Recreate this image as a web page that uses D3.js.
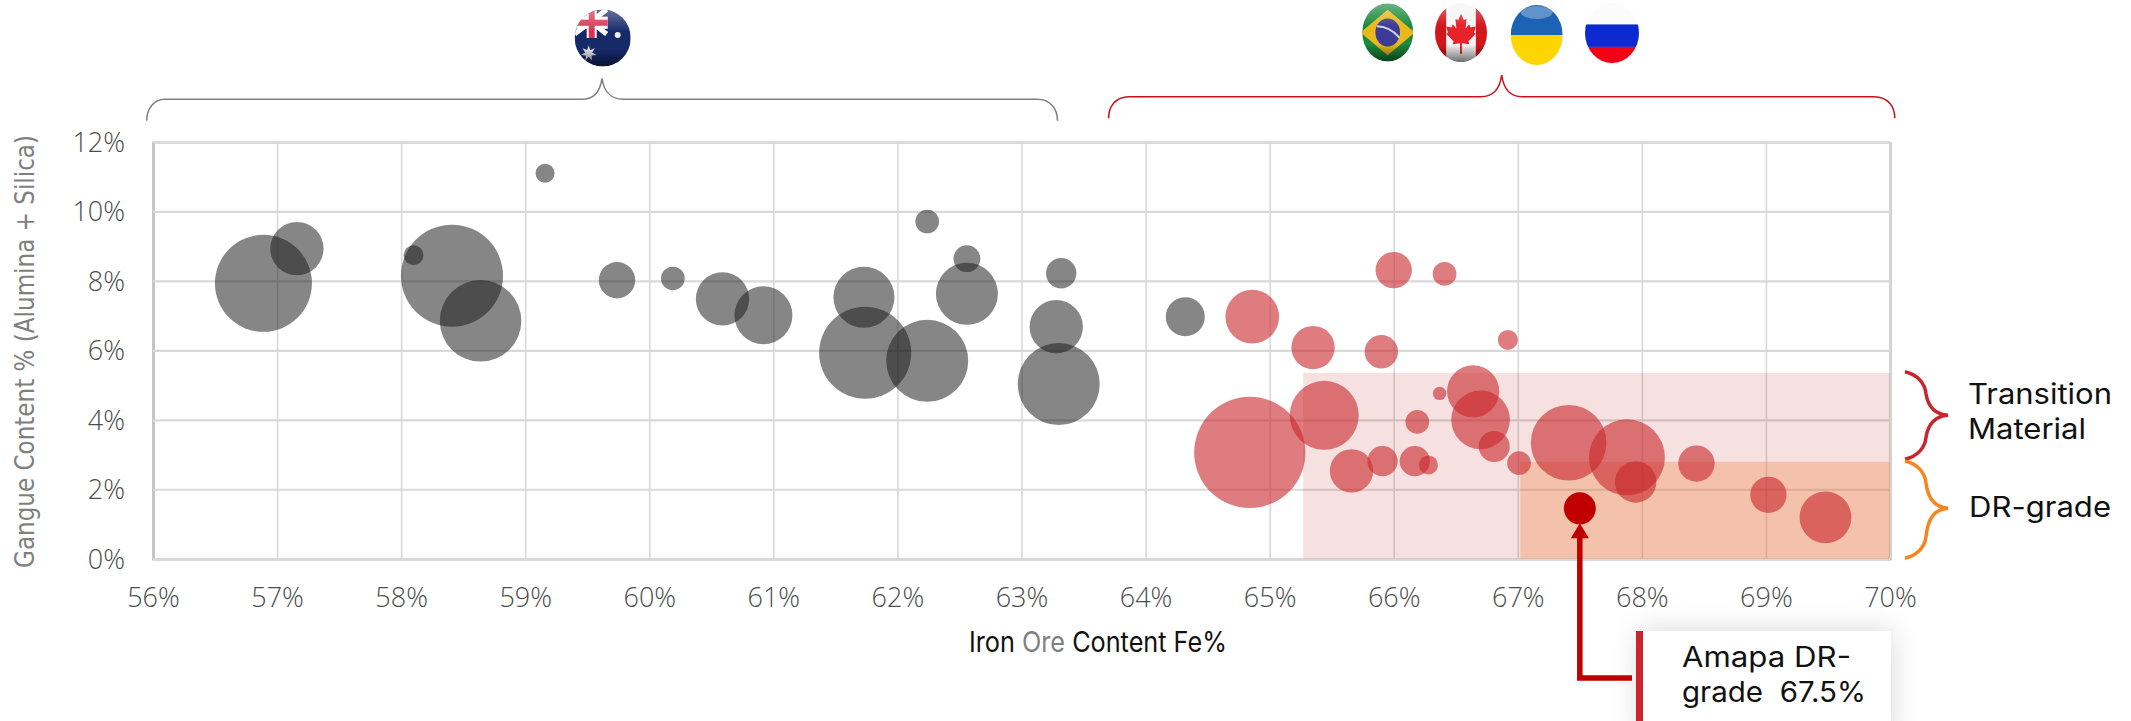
<!DOCTYPE html>
<html>
<head>
<meta charset="utf-8">
<script src="https://cdn.jsdelivr.net/npm/d3@7"></script>
<style>
  html, body { margin: 0; padding: 0; background: #fff; }
  svg { display: block; }
  text { font-family: "Open Sans", sans-serif; }
  .tick text { font-size: 27px; font-weight: 300; fill: #4d4d4d; }
  .label { font-family: "Inter", sans-serif; fill: #111; }
</style>
</head>
<body>
<div id="chart"></div>
<script>
var xTicks = [56, 57, 58, 59, 60, 61, 62, 63, 64, 65, 66, 67, 68, 69, 70];
var yTicks = [0, 2, 4, 6, 8, 10, 12];

// australian producers
var grayFe = [56.89, 57.16, 59.16, 58.10, 58.41, 58.64, 59.74, 60.19, 60.59, 60.92, 61.73, 61.74, 62.24, 62.24, 62.56, 62.56, 63.32, 63.28, 63.30, 64.32];
var grayGangue = [7.93, 8.93, 11.1, 8.74, 8.15, 6.85, 8.02, 8.07, 7.48, 7.01, 7.53, 5.93, 5.70, 9.71, 8.64, 7.63, 8.22, 6.68, 5.03, 6.97];
var graySize = [235, 71, 9, 10, 260, 166, 33, 14, 71, 84, 93, 212, 168, 14, 18, 96, 23, 71, 168, 38];

// brazil, canada, ukraine, russia
var redFe = [64.86, 65.35, 65.90, 66.00, 66.41, 66.92, 64.84, 65.44, 65.66, 65.91, 66.17, 66.28, 66.19, 66.37, 66.64, 66.70, 66.81, 67.01, 67.41, 67.88, 67.95, 68.44, 69.02, 69.48];
var redGangue = [6.97, 6.08, 5.96, 8.31, 8.20, 6.30, 3.06, 4.13, 2.53, 2.81, 2.81, 2.70, 3.94, 4.76, 4.82, 4.00, 3.23, 2.75, 3.34, 2.92, 2.21, 2.74, 1.84, 1.19];
var redSize = [72, 47, 28, 33, 14, 10, 309, 119, 47, 23, 23, 9, 14, 4.5, 68, 86, 24, 14, 143, 144, 43, 33, 33, 67];

var amapaFe = [67.5];
var amapaGangue = [1.45];
var amapaSize = [25.6];

// bands: [fe from, fe to, gangue top]
var transitionBand = [65.27, 70, 5.35];
var drBand = [67.02, 70, 2.79];

var width = 2131, height = 721;
var left = 153, right = 1890, top_ = 142, bottom = 558.7;

var svg = d3.select('#chart').append('svg')
  .attr('width', width)
  .attr('height', height);

var x = d3.scaleLinear().domain([56, 70]).range([left, right]);
var y = d3.scaleLinear().domain([0, 12]).range([bottom, top_]);
var r = d3.scaleSqrt().domain([0, 310]).range([0, 55.7]);

var defs = svg.append('defs');

// grid + axes
var xAxis = d3.axisBottom(x)
  .tickValues(xTicks)
  .tickSize(-(bottom - top_))
  .tickPadding(30)
  .tickFormat(function(d) { return d + '%'; });
var yAxis = d3.axisLeft(y)
  .tickValues(yTicks)
  .tickSize(-(right - left))
  .tickPadding(28)
  .tickFormat(function(d) { return d + '%'; });

var gx = svg.append('g').attr('transform', 'translate(0,' + bottom + ')').call(xAxis);
var gy = svg.append('g').attr('transform', 'translate(' + left + ',0)').call(yAxis);
gx.select('.domain').attr('stroke', '#bfbfbf').attr('stroke-width', 2.5);
gy.select('.domain').attr('stroke', '#bfbfbf').attr('stroke-width', 2);
gx.selectAll('.tick line').attr('stroke', '#d9d9d9').attr('stroke-width', 1.6);
gy.selectAll('.tick line').attr('stroke', '#d9d9d9').attr('stroke-width', 2.2);
gx.selectAll('.tick text').attr('dy', 0).attr('y', 48);
gy.selectAll('.tick text').attr('dy', 9.5).attr('x', -28);

// bands
function band(b, fill, op) {
  svg.append('rect')
    .attr('x', x(b[0]))
    .attr('y', y(b[2]))
    .attr('width', x(b[1]) - x(b[0]))
    .attr('height', y(0) - y(b[2]))
    .attr('fill', fill)
    .attr('opacity', op);
}
band(transitionBand, '#c00000', 0.12);
band(drBand, '#ed7d31', 0.3);

// bubbles
function bubbles(fe, gangue, size, fill, op) {
  svg.append('g')
    .selectAll('circle')
    .data(fe)
    .enter()
    .append('circle')
    .attr('cx', function(d) { return x(d); })
    .attr('cy', function(d, i) { return y(gangue[i]); })
    .attr('r', function(d, i) { return r(size[i]); })
    .attr('fill', fill)
    .attr('fill-opacity', op);
}
bubbles(grayFe, grayGangue, graySize, '#1a1a1a', 0.53);
bubbles(redFe, redGangue, redSize, '#c8252a', 0.6);
bubbles(amapaFe, amapaGangue, amapaSize, '#c00000', 1);

// axis titles
svg.append('text')
  .attr('transform', 'translate(34,351.5) rotate(-90)')
  .attr('text-anchor', 'middle')
  .attr('textLength', 433)
  .attr('lengthAdjust', 'spacingAndGlyphs')
  .style('font-family', '"DejaVu Sans", sans-serif')
  .style('font-size', '27px')
  .attr('fill', '#7f7f7f')
  .text('Gangue Content % (Alumina + Silica)');

var xTitle = svg.append('text')
  .attr('x', 969)
  .attr('y', 652)
  .attr('textLength', 258)
  .attr('lengthAdjust', 'spacingAndGlyphs')
  .attr('class', 'label')
  .style('font-size', '28px');
xTitle.append('tspan').text('Iron ');
xTitle.append('tspan').attr('fill', '#7f7f7f').text('Ore');
xTitle.append('tspan').text(' Content Fe%');

// braces over the chart
function topBrace(x0, x1, xm, yb, yl, yp, xa, xb, xc, xd, color) {
  svg.append('path')
    .attr('d', 'M' + x0 + ',' + yb +
      'C' + x0 + ',' + (yb - 12) + ' ' + (x0 + 7) + ',' + yl + ' ' + xa + ',' + yl +
      'L' + xb + ',' + yl +
      'C' + (xb + 11) + ',' + yl + ' ' + (xm - 2) + ',' + (yl - 7) + ' ' + xm + ',' + yp +
      'C' + (xm + 2) + ',' + (yl - 7) + ' ' + (xc - 11) + ',' + yl + ' ' + xc + ',' + yl +
      'L' + xd + ',' + yl +
      'C' + (x1 - 7) + ',' + yl + ' ' + x1 + ',' + (yb - 12) + ' ' + x1 + ',' + yb)
    .attr('fill', 'none')
    .attr('stroke', color)
    .attr('stroke-width', 1.5);
}
topBrace(146.7, 1057.5, 602, 120.7, 99.3, 78.3, 165, 582, 623, 1037, '#7f7f7f');
topBrace(1108.6, 1894.8, 1501.7, 118.3, 96.7, 75, 1129, 1481, 1522, 1874, '#c8101c');

// side braces
function sideBrace(y0, ym, y1, color) {
  svg.append('path')
    .attr('d', 'M1905,' + y0 +
      'C1918,' + (y0 + 3) + ' 1925,' + (y0 + 12) + ' 1926,' + (y0 + 22) +
      'C1928,' + (ym - 9) + ' 1935,' + (ym - 1) + ' 1948,' + ym +
      'C1935,' + (ym + 1) + ' 1928,' + (ym + 9) + ' 1926,' + (y1 - 22) +
      'C1925,' + (y1 - 12) + ' 1918,' + (y1 - 3) + ' 1905,' + y1)
    .attr('fill', 'none')
    .attr('stroke', color)
    .attr('stroke-width', 3.5);
}
sideBrace(371.7, 415.3, 459.3, '#c8252f');
sideBrace(461, 508.3, 558.3, '#f5851f');

function label(px, py, str, len) {
  svg.append('text')
    .attr('class', 'label')
    .attr('x', px)
    .attr('y', py)
    .attr('xml:space', 'preserve')
    .attr('textLength', len)
    .attr('lengthAdjust', 'spacingAndGlyphs')
    .style('white-space', 'pre')
    .style('font-size', '28px')
    .text(str);
}
label(1968, 404, 'Transition', 144);
label(1968, 439, 'Material', 118);
label(1969, 517, 'DR-grade', 142);

// callout box
defs.append('filter').attr('id', 'shadow')
  .attr('x', '-20%').attr('y', '-30%').attr('width', '140%').attr('height', '160%')
  .append('feDropShadow')
  .attr('dx', 0).attr('dy', 0).attr('stdDeviation', 14)
  .attr('flood-color', '#000').attr('flood-opacity', 0.16);
svg.append('rect')
  .attr('x', 1640).attr('y', 631).attr('width', 251).attr('height', 110)
  .attr('fill', '#fff')
  .attr('filter', 'url(#shadow)');
svg.append('rect')
  .attr('x', 1636).attr('y', 631).attr('width', 7).attr('height', 90)
  .attr('fill', '#c8252f');
label(1682, 667, 'Amapa DR-', 169);
label(1682, 702, 'grade  67.5%', 184);

// arrow from callout to amapa bubble
var ax = x(amapaFe[0]);
var ay = y(amapaGangue[0]) + r(amapaSize[0]);
svg.append('path')
  .attr('d', 'M1632,678H' + ax + 'V' + (ay + 12))
  .attr('fill', 'none')
  .attr('stroke', '#c00000')
  .attr('stroke-width', 5.5);
svg.append('path')
  .attr('d', 'M' + ax + ',' + (ay - 1) + 'L' + (ax + 9) + ',' + (ay + 14) + 'L' + (ax - 9) + ',' + (ay + 14) + 'Z')
  .attr('fill', '#c00000');

// flags
defs.append('filter').attr('id', 'soft').append('feGaussianBlur').attr('stdDeviation', 0.7);
var gloss = defs.append('linearGradient').attr('id', 'gloss')
  .attr('x1', 0).attr('y1', 0).attr('x2', 0).attr('y2', 1);
gloss.append('stop').attr('offset', '0%').attr('stop-color', '#fff').attr('stop-opacity', 0.35);
gloss.append('stop').attr('offset', '40%').attr('stop-color', '#fff').attr('stop-opacity', 0);
gloss.append('stop').attr('offset', '70%').attr('stop-color', '#000').attr('stop-opacity', 0);
gloss.append('stop').attr('offset', '100%').attr('stop-color', '#000').attr('stop-opacity', 0.55);

function starPath(n, ro, ri) {
  var s = '';
  for (var i = 0; i < n * 2; i++) {
    var a = Math.PI * i / n - Math.PI / 2;
    var q = i % 2 ? ri : ro;
    s += (i ? 'L' : 'M') + (q * Math.cos(a)) + ',' + (q * Math.sin(a));
  }
  return s + 'Z';
}

function flag(id, cx, cy, rx, ry, shade, draw) {
  defs.append('clipPath').attr('id', 'clip-' + id)
    .append('circle').attr('r', 28);
  var g = svg.append('g')
    .attr('transform', 'translate(' + cx + ',' + cy + ') scale(' + (rx / 28) + ',' + (ry / 28) + ')')
    .attr('filter', 'url(#soft)');
  var inner = g.append('g').attr('clip-path', 'url(#clip-' + id + ')');
  draw(inner);
  if (shade) {
    inner.append('circle').attr('r', 28).attr('fill', 'url(#gloss)');
  }
}
function box(g, bx, by, w, h, fill) {
  g.append('rect').attr('x', bx).attr('y', by).attr('width', w).attr('height', h).attr('fill', fill);
}

flag('au', 602.7, 38, 28, 28.5, true, function(g) {
  box(g, -28, -28, 56, 56, '#15296b');
  g.append('path').attr('d', 'M-28,-28L4,-4M4,-28L-28,-4').attr('stroke', '#fff').attr('stroke-width', 5);
  box(g, -28, -21, 33, 12, '#fff');
  box(g, -16, -28, 10, 28, '#fff');
  box(g, -28, -18, 33, 6, '#d8304f');
  box(g, -14, -28, 6, 28, '#d8304f');
  g.append('path').attr('d', starPath(7, 8, 3.5)).attr('transform', 'translate(-14,15)').attr('fill', '#ddd');
  g.append('circle').attr('cx', 15).attr('cy', -3).attr('r', 3).attr('fill', '#eee');
});
flag('br', 1387.7, 32.5, 25.5, 29, true, function(g) {
  box(g, -28, -28, 56, 56, '#1b8a3c');
  g.append('path').attr('d', 'M-30,0L0,-22L30,0L0,22Z').attr('fill', '#e8b81c');
  g.append('circle').attr('r', 13.5).attr('fill', '#3d3a96');
  g.append('path').attr('d', 'M-12,-6Q2,-6 13,5').attr('fill', 'none').attr('stroke', '#cfd3ea').attr('stroke-width', 2);
});
flag('ca', 1461, 32.7, 26, 29.5, true, function(g) {
  box(g, -28, -28, 56, 56, '#f4f4f4');
  box(g, -28, -28, 12, 56, '#d2141c');
  box(g, 16, -28, 12, 56, '#d2141c');
  g.append('path')
    .attr('d', 'M0,-18L3,-12L6,-13L5,-4L9,-8L10,-5L16,-6L14,0L16,1L8,8L9,11L1,10V20H-1V10L-9,11L-8,8L-16,1L-14,0L-16,-6L-10,-5L-9,-8L-5,-4L-6,-13L-3,-12Z')
    .attr('fill', '#e8202a');
});
flag('ua', 1536.7, 35, 26, 30, false, function(g) {
  box(g, -28, -28, 56, 28, '#1f63b4');
  box(g, -28, 0, 56, 28, '#ffd500');
  g.append('ellipse').attr('cx', 0).attr('cy', -21).attr('rx', 17).attr('ry', 6).attr('fill', '#fff').attr('opacity', 0.3);
});
flag('ru', 1612, 33, 27, 30, false, function(g) {
  box(g, -28, -28, 56, 20, '#fbfbfb');
  box(g, -28, -8, 56, 21, '#0a2bd0');
  box(g, -28, 13, 56, 15, '#f40012');
});
</script>
</body>
</html>
